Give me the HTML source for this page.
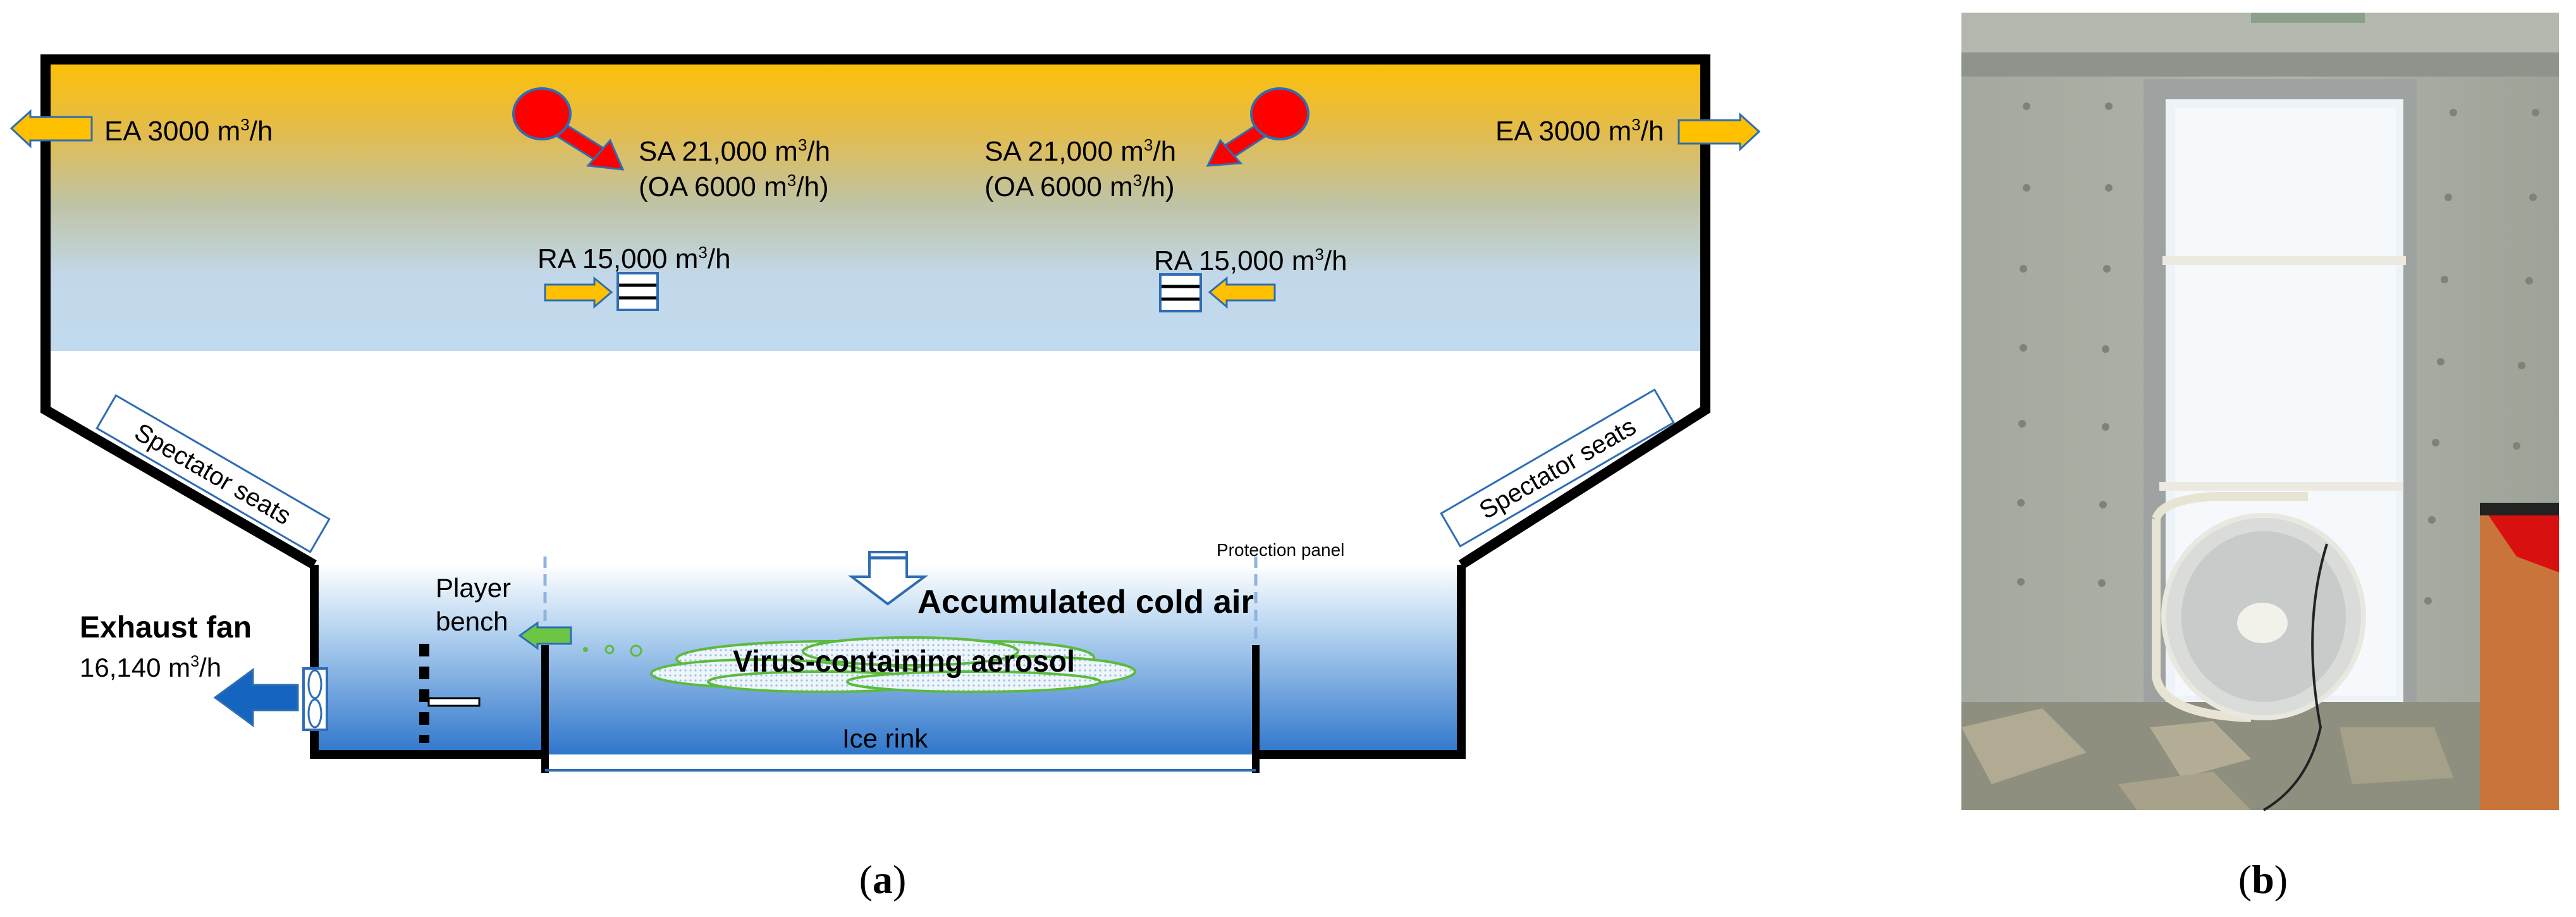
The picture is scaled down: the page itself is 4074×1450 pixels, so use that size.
<!DOCTYPE html>
<html><head><meta charset="utf-8"><style>
html,body{margin:0;padding:0;background:#fff;}
svg{display:block;}
text{font-family:"Liberation Sans Narrow","Liberation Sans",sans-serif;fill:#000;}
</style></head><body>
<svg width="4074" height="1450" viewBox="0 0 4074 1450" xmlns="http://www.w3.org/2000/svg">
<defs>
<linearGradient id="top" x1="0" y1="0" x2="0" y2="1">
<stop offset="0" stop-color="#FFC000"/>
<stop offset="0.25" stop-color="#E4BC4A"/>
<stop offset="0.5" stop-color="#BFC3A4"/>
<stop offset="0.75" stop-color="#C2D8EA"/>
<stop offset="1" stop-color="#C2DAEE"/>
</linearGradient>
<linearGradient id="low" x1="0" y1="0" x2="0" y2="1">
<stop offset="0" stop-color="#FFFFFF"/>
<stop offset="0.35" stop-color="#B4D3F0"/>
<stop offset="1" stop-color="#2F76CB"/>
</linearGradient>
<linearGradient id="wall" x1="0" y1="0" x2="1" y2="0">
<stop offset="0" stop-color="#a3a99e"/>
<stop offset="0.5" stop-color="#b0b4aa"/>
<stop offset="1" stop-color="#9ea398"/>
</linearGradient>
<pattern id="dots" width="8" height="8" patternUnits="userSpaceOnUse">
<rect width="8" height="8" fill="#eef5fb"/><circle cx="4" cy="4" r="1.6" fill="#9fc0e0"/>
</pattern>
</defs>

<rect x="72" y="88" width="2625" height="467" fill="url(#top)"/>
<rect x="497" y="893" width="1814" height="300" fill="url(#low)"/>

<polyline points="497,893 72,648 72,94 2697,94 2697,648 2311,893" fill="none" stroke="#000" stroke-width="16"/>
<line x1="497" y1="893" x2="497" y2="1193" stroke="#000" stroke-width="14"/>
<line x1="2311" y1="893" x2="2311" y2="1193" stroke="#000" stroke-width="14"/>
<line x1="490" y1="1193" x2="862" y2="1193" stroke="#000" stroke-width="14"/>
<line x1="1986" y1="1193" x2="2318" y2="1193" stroke="#000" stroke-width="14"/>
<line x1="862" y1="1020" x2="862" y2="1222" stroke="#000" stroke-width="12"/>
<line x1="1986" y1="1020" x2="1986" y2="1222" stroke="#000" stroke-width="12"/>
<line x1="862" y1="1218" x2="1986" y2="1218" stroke="#2E6DB4" stroke-width="4"/>
<line x1="862" y1="880" x2="862" y2="1020" stroke="#8FB4E3" stroke-width="5" stroke-dasharray="18,10"/>
<line x1="1986" y1="880" x2="1986" y2="1020" stroke="#8FB4E3" stroke-width="5" stroke-dasharray="18,10"/>

<polygon points="145,185 48,185 48,176 18,203 48,231 48,222 145,222" fill="#FFC000" stroke="#2E6DB4" stroke-width="3"/>
<text x="165" y="222" font-size="44">EA 3000 m<tspan font-size="26" dy="-16">3</tspan><tspan dy="16">/h</tspan></text>
<polygon points="2655,190 2752,190 2752,181 2782,208 2752,236 2752,227 2655,227" fill="#FFC000" stroke="#2E6DB4" stroke-width="3"/>
<text x="2365" y="222" font-size="44">EA 3000 m<tspan font-size="26" dy="-16">3</tspan><tspan dy="16">/h</tspan></text>

<line x1="870" y1="195" x2="958" y2="250" stroke="#2E6DB4" stroke-width="26"/>
<line x1="870" y1="195" x2="958" y2="250" stroke="#FF0000" stroke-width="20"/>
<polygon points="985,268 930,262 965,222" fill="#FF0000" stroke="#2E6DB4" stroke-width="3"/>
<ellipse cx="857" cy="180" rx="45" ry="40" fill="#FF0000" stroke="#2E6DB4" stroke-width="4"/>
<line x1="2012" y1="195" x2="1935" y2="245" stroke="#2E6DB4" stroke-width="26"/>
<line x1="2012" y1="195" x2="1935" y2="245" stroke="#FF0000" stroke-width="20"/>
<polygon points="1910,262 1962,258 1930,222" fill="#FF0000" stroke="#2E6DB4" stroke-width="3"/>
<ellipse cx="2024" cy="180" rx="45" ry="40" fill="#FF0000" stroke="#2E6DB4" stroke-width="4"/>

<text x="1010" y="254" font-size="44">SA 21,000 m<tspan font-size="26" dy="-16">3</tspan><tspan dy="16">/h</tspan></text>
<text x="1010" y="310" font-size="44">(OA 6000 m<tspan font-size="26" dy="-16">3</tspan><tspan dy="16">/h)</tspan></text>
<text x="1557" y="254" font-size="44">SA 21,000 m<tspan font-size="26" dy="-16">3</tspan><tspan dy="16">/h</tspan></text>
<text x="1557" y="310" font-size="44">(OA 6000 m<tspan font-size="26" dy="-16">3</tspan><tspan dy="16">/h)</tspan></text>

<text x="850" y="424" font-size="44">RA 15,000 m<tspan font-size="26" dy="-16">3</tspan><tspan dy="16">/h</tspan></text>
<polygon points="862,450 940,450 940,440 967,462 940,485 940,475 862,475" fill="#FFC000" stroke="#2E6DB4" stroke-width="3"/>
<rect x="977" y="432" width="63" height="58" fill="#fff" stroke="#2E6DB4" stroke-width="4"/>
<line x1="979" y1="451" x2="1038" y2="451" stroke="#000" stroke-width="5"/>
<line x1="979" y1="471" x2="1038" y2="471" stroke="#000" stroke-width="5"/>
<text x="1825" y="427" font-size="44">RA 15,000 m<tspan font-size="26" dy="-16">3</tspan><tspan dy="16">/h</tspan></text>
<polygon points="2016,450 1940,450 1940,440 1913,462 1940,485 1940,475 2016,475" fill="#FFC000" stroke="#2E6DB4" stroke-width="3"/>
<rect x="1835" y="434" width="64" height="58" fill="#fff" stroke="#2E6DB4" stroke-width="4"/>
<line x1="1837" y1="453" x2="1897" y2="453" stroke="#000" stroke-width="5"/>
<line x1="1837" y1="473" x2="1897" y2="473" stroke="#000" stroke-width="5"/>

<g transform="translate(337,749) rotate(30.1)">
<rect x="-195" y="-30" width="390" height="60" fill="#fff" stroke="#2E6DB4" stroke-width="3"/>
<text x="0" y="14" font-size="40" text-anchor="middle">Spectator seats</text>
</g>
<g transform="translate(2463,740) rotate(-30.1)">
<rect x="-195" y="-30" width="390" height="60" fill="#fff" stroke="#2E6DB4" stroke-width="3"/>
<text x="0" y="14" font-size="40" text-anchor="middle">Spectator seats</text>
</g>

<text x="1924" y="879" font-size="28">Protection panel</text>

<polygon points="1375,873 1434,873 1434,912 1462,912 1404,955 1347,912 1375,912" fill="#fff" stroke="#2E6DB4" stroke-width="4"/>
<line x1="1377" y1="882" x2="1432" y2="882" stroke="#2E6DB4" stroke-width="5"/>
<text x="1451" y="969" font-size="52" font-weight="bold" textLength="532" lengthAdjust="spacingAndGlyphs">Accumulated cold air</text>

<g fill="url(#dots)" stroke="#5CBB3C" stroke-width="4">
<ellipse cx="1320" cy="1042" rx="250" ry="28"/>
<ellipse cx="1560" cy="1040" rx="170" ry="26"/>
<ellipse cx="1200" cy="1065" rx="170" ry="22"/>
<ellipse cx="1620" cy="1062" rx="175" ry="24"/>
<ellipse cx="1300" cy="1078" rx="180" ry="16"/>
<ellipse cx="1540" cy="1078" rx="200" ry="16"/>
<ellipse cx="1440" cy="1030" rx="170" ry="22"/>
</g>
<text x="1159" y="1062" font-size="48" font-weight="bold" textLength="541" lengthAdjust="spacingAndGlyphs">Virus-containing  aerosol</text>
<circle cx="926" cy="1027" r="4" fill="#5CBB3C"/>
<circle cx="964" cy="1027" r="6" fill="none" stroke="#5CBB3C" stroke-width="3"/>
<circle cx="1006" cy="1029" r="8" fill="none" stroke="#5CBB3C" stroke-width="3"/>

<polygon points="903,992 850,992 850,985 822,1005 850,1025 850,1018 903,1018" fill="#6CC644" stroke="#2E6DB4" stroke-width="3"/>

<text x="689" y="944" font-size="42">Player</text>
<text x="689" y="997" font-size="42">bench</text>
<line x1="671" y1="1018" x2="671" y2="1175" stroke="#000" stroke-width="16" stroke-dasharray="20,16"/>
<rect x="678" y="1104" width="80" height="12" fill="#fff" stroke="#000" stroke-width="3"/>

<text x="126" y="1008" font-size="48" font-weight="bold">Exhaust fan</text>
<text x="126" y="1070" font-size="42">16,140 m<tspan font-size="25" dy="-16">3</tspan><tspan dy="16">/h</tspan></text>
<polygon points="471,1083 400,1083 400,1059 340,1103 400,1147 400,1123 471,1123" fill="#1565C0" stroke="#2E6DB4" stroke-width="3"/>
<rect x="480" y="1057" width="37" height="97" fill="#fff" stroke="#2E6DB4" stroke-width="4"/>
<ellipse cx="498" cy="1082" rx="10" ry="22" fill="#fff" stroke="#2E6DB4" stroke-width="3"/>
<ellipse cx="498" cy="1128" rx="10" ry="22" fill="#fff" stroke="#2E6DB4" stroke-width="3"/>

<text x="1332" y="1182" font-size="42">Ice rink</text>

<text x="1396" y="1412" font-size="64" text-anchor="middle" style="font-family:'Liberation Serif',serif">(<tspan font-weight="bold">a</tspan>)</text>

<g>
<rect x="3102" y="20" width="945" height="1261" fill="url(#wall)"/>
<rect x="3102" y="20" width="945" height="65" fill="#b3b7ae"/>
<rect x="3560" y="20" width="180" height="16" fill="#8aa088"/>
<rect x="3102" y="83" width="945" height="38" fill="#8e938b"/>
<g fill="#7d8379">
<circle cx="3205" cy="168" r="6"/><circle cx="3335" cy="168" r="6"/><circle cx="3205" cy="297" r="6"/><circle cx="3335" cy="297" r="6"/>
<circle cx="3200" cy="425" r="6"/><circle cx="3332" cy="425" r="6"/><circle cx="3200" cy="550" r="6"/><circle cx="3330" cy="552" r="6"/>
<circle cx="3198" cy="670" r="6"/><circle cx="3330" cy="675" r="6"/><circle cx="3196" cy="795" r="6"/><circle cx="3326" cy="798" r="6"/>
<circle cx="3196" cy="920" r="6"/><circle cx="3324" cy="922" r="6"/>
<circle cx="3880" cy="178" r="6"/><circle cx="4010" cy="178" r="6"/><circle cx="3872" cy="312" r="6"/><circle cx="4006" cy="312" r="6"/>
<circle cx="3866" cy="442" r="6"/><circle cx="4000" cy="444" r="6"/><circle cx="3860" cy="572" r="6"/><circle cx="3988" cy="578" r="6"/>
<circle cx="3852" cy="700" r="6"/><circle cx="3980" cy="705" r="6"/><circle cx="3846" cy="822" r="6"/><circle cx="3840" cy="950" r="6"/>
</g>
<rect x="3390" y="125" width="432" height="1000" fill="#9ea3a2"/>
<rect x="3425" y="157" width="376" height="953" fill="#EEF3F7"/>
<rect x="3440" y="170" width="350" height="930" fill="#F6F9FB"/>
<rect x="3420" y="405" width="385" height="14" fill="#ECEAE0"/>
<rect x="3415" y="762" width="385" height="14" fill="#ECEAE0"/>
<rect x="3102" y="1110" width="945" height="171" fill="#8f8f80"/>
<polygon points="3102,1150 3230,1120 3300,1190 3150,1240" fill="#b0ab92"/>
<polygon points="3400,1150 3500,1140 3560,1200 3450,1230" fill="#b3ad95"/>
<polygon points="3350,1240 3500,1220 3560,1281 3380,1281" fill="#a8a28a"/>
<polygon points="3700,1150 3850,1150 3880,1230 3720,1240" fill="#a5a088"/>
<path d="M3410,820 Q3420,790 3500,785 L3650,785" fill="none" stroke="#E8E4D4" stroke-width="14"/>
<path d="M3410,820 L3410,1070 Q3420,1130 3560,1135" fill="none" stroke="#E8E4D4" stroke-width="14"/>
<ellipse cx="3580" cy="975" rx="158" ry="160" fill="#d9dcd8" stroke="#e9e8e0" stroke-width="8"/>
<ellipse cx="3580" cy="975" rx="130" ry="135" fill="#c7cbc9"/>
<ellipse cx="3578" cy="985" rx="40" ry="32" fill="#f2f1ea"/>
<path d="M3680,860 Q3640,990 3670,1150 Q3650,1240 3580,1281" fill="none" stroke="#222" stroke-width="4"/>
<rect x="3922" y="795" width="125" height="486" fill="#C8743A"/>
<polygon points="3922,795 4047,800 4047,905 3980,880" fill="#D81010"/>
<rect x="3922" y="795" width="125" height="20" fill="#222"/>
</g>
<text x="3579" y="1412" font-size="64" text-anchor="middle" style="font-family:'Liberation Serif',serif">(<tspan font-weight="bold">b</tspan>)</text>
</svg>
</body></html>
